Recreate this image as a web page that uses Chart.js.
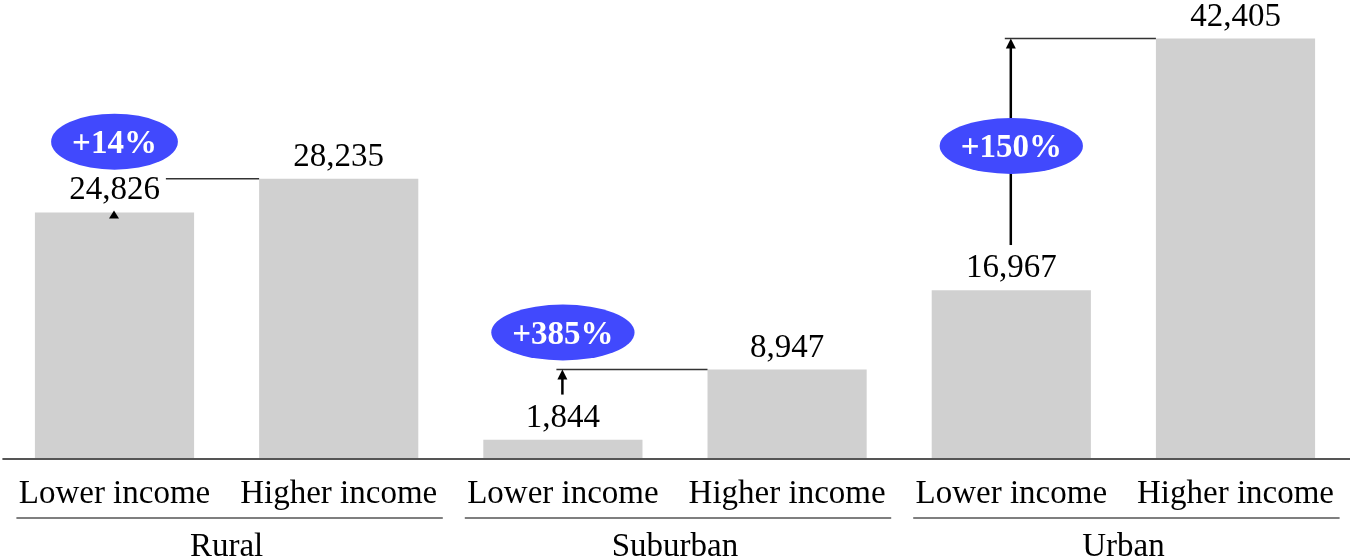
<!DOCTYPE html>
<html lang="en">
<head>
    <meta charset="UTF-8">
    <title>Lower vs higher income</title>
    <script src="https://cdn.jsdelivr.net/npm/chart.js"></script>
    <style>
        body {
            margin: 0;
            background-color: #fff;
        }
        canvas {
            display: block;
        }
    </style>
</head>
<body>
    <canvas id="chart" width="1350" height="560"></canvas>
    <script>
    // data
    const groups = ['Rural', 'Suburban', 'Urban'];
    const incomeLevels = ['Lower income', 'Higher income'];
    const lowerIncome = [24826, 1844, 16967];
    const higherIncome = [28235, 8947, 42405];
    const changeLabels = ['+14%', '+385%', '+150%'];

    const labels = [];
    const values = [];
    groups.forEach((g, i) => {
        labels.push([g, incomeLevels[0]]);
        values.push(lowerIncome[i]);
        labels.push([g, incomeLevels[1]]);
        values.push(higherIncome[i]);
    });

    const serif = '"Liberation Serif", "Times New Roman", serif';

    const overlay = {
        id: 'overlay',
        afterDatasetsDraw(chart) {
            const ctx = chart.ctx;
            const area = chart.chartArea;
            const bars = chart.getDatasetMeta(0).data;
            const step = bars[1].x - bars[0].x;
            ctx.save();

            // baseline
            ctx.strokeStyle = '#555';
            ctx.lineWidth = 2;
            ctx.beginPath();
            ctx.moveTo(area.left, area.bottom + 1);
            ctx.lineTo(chart.width, area.bottom + 1);
            ctx.stroke();

            // category + group labels
            ctx.fillStyle = '#000';
            ctx.font = '33px ' + serif;
            ctx.textAlign = 'center';
            ctx.textBaseline = 'alphabetic';
            bars.forEach((b, i) => {
                ctx.fillText(incomeLevels[i % 2], b.x, 503);
            });
            groups.forEach((g, gi) => {
                const left = bars[gi * 2].x - step / 2;
                const right = bars[gi * 2 + 1].x + step / 2;
                ctx.strokeStyle = '#555';
                ctx.lineWidth = 1.5;
                ctx.beginPath();
                ctx.moveTo(left + 14, 518);
                ctx.lineTo(right - 8, 518);
                ctx.stroke();
                ctx.fillStyle = '#000';
                ctx.fillText(g, (left + right) / 2, 556);
            });

            groups.forEach((g, gi) => {
                const lo = bars[gi * 2];
                const hi = bars[gi * 2 + 1];
                const loBase = lo.y - 13;
                const boxTop = loBase - 32;
                const ax = lo.x - 0.5;

                // connector from lower to higher level
                ctx.strokeStyle = '#333';
                ctx.lineWidth = 1.5;
                ctx.beginPath();
                ctx.moveTo(ax - 6, hi.y);
                ctx.lineTo(hi.x - hi.width / 2, hi.y);
                ctx.stroke();

                ctx.fillStyle = '#000';
                if (boxTop > hi.y + 10) {
                    ctx.strokeStyle = '#000';
                    ctx.lineWidth = 2.5;
                    ctx.beginPath();
                    ctx.moveTo(ax, boxTop);
                    ctx.lineTo(ax, hi.y + 8);
                    ctx.stroke();
                    ctx.beginPath();
                    ctx.moveTo(ax, hi.y);
                    ctx.lineTo(ax - 5, hi.y + 10);
                    ctx.lineTo(ax + 5, hi.y + 10);
                    ctx.closePath();
                    ctx.fill();
                } else {
                    // label hides the arrow, only its head shows at the bar top
                    ctx.beginPath();
                    ctx.moveTo(ax, lo.y - 2);
                    ctx.lineTo(ax - 5, lo.y + 6);
                    ctx.lineTo(ax + 5, lo.y + 6);
                    ctx.closePath();
                    ctx.fill();
                }
            });

            // value labels with white boxes
            ctx.font = '33px ' + serif;
            bars.forEach((b, i) => {
                const txt = values[i].toLocaleString('en-US');
                const base = b.y - 13;
                const tw = ctx.measureText(txt).width;
                ctx.fillStyle = '#fff';
                ctx.fillRect(b.x - tw / 2 - 6, base - 32, tw + 12, 39);
                ctx.fillStyle = '#000';
                ctx.fillText(txt, b.x, base);
            });

            // change bubbles
            ctx.font = 'bold 33px ' + serif;
            groups.forEach((g, gi) => {
                const lo = bars[gi * 2];
                const hi = bars[gi * 2 + 1];
                let cy = hi.y - 37;
                if (cy - 28 < area.top) {
                    const arrowStart = lo.y - 13 - 32;
                    cy = arrowStart - (arrowStart - hi.y) * 0.48;
                }
                const tw = ctx.measureText(changeLabels[gi]).width;
                ctx.fillStyle = '#4149fd';
                ctx.beginPath();
                ctx.ellipse(lo.x, cy, tw / 2 + 21, 28, 0, 0, Math.PI * 2);
                ctx.fill();
                ctx.fillStyle = '#fff';
                ctx.fillText(changeLabels[gi], lo.x, cy + 11);
            });

            ctx.restore();
        }
    };

    new Chart(document.getElementById('chart'), {
        type: 'bar',
        data: {
            labels: labels,
            datasets: [{
                data: values,
                backgroundColor: '#d0d0d0',
                borderWidth: 0,
                categoryPercentage: 1,
                barPercentage: 0.71
            }]
        },
        options: {
            responsive: false,
            animation: false,
            layout: { padding: { left: 2.4, right: 2.4, top: 3, bottom: 102 } },
            plugins: {
                legend: { display: false },
                tooltip: { enabled: false }
            },
            scales: {
                x: { display: false },
                y: { display: false, min: 0, max: 46000 }
            }
        },
        plugins: [overlay]
    });
    </script>
</body>
</html>
